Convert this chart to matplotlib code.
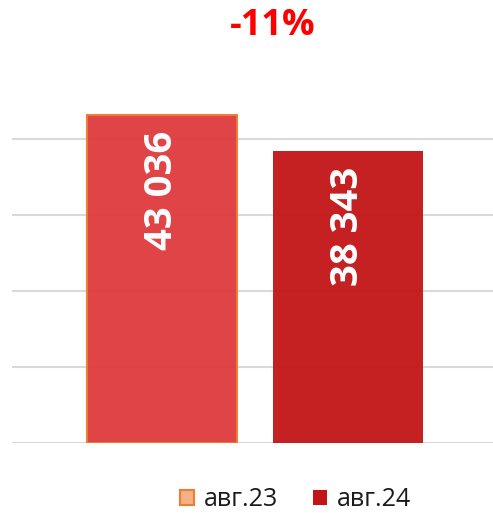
import matplotlib
matplotlib.use('Agg')
import matplotlib.pyplot as plt
from matplotlib.patches import Patch

# monthly totals
periods = ['авг.23', 'авг.24']
values = [43036, 38343]
change_label = '-11%'

bar_colors = ['#E03A3C', '#C21516']
edge_colors = ['#ED7D31', '#C21516']
edge_widths = [1.5, 0]
legend_faces = ['#F4B183', '#C21516']

plt.rcParams['font.family'] = ['Open Sans', 'DejaVu Sans']

fig = plt.figure(figsize=(4.93, 5.13), dpi=100)
ax = fig.add_axes([0.0243, 0.1355, 0.9757, 0.743])

x = list(range(len(values)))
bars = ax.bar(x, values, width=0.806, color=bar_colors, edgecolor=edge_colors,
              linewidth=edge_widths, alpha=0.95, zorder=3)

for rect, v in zip(bars, values):
    txt = '{:,}'.format(v).replace(',', ' ')
    ax.annotate(txt, (rect.get_x() + rect.get_width() / 2, v),
                xytext=(0, -11), textcoords='offset points',
                rotation=90, ha='center', va='top', color='white',
                fontsize=27.5, fontweight='bold', zorder=4)

ax.set_xlim(-0.806, 1.78)
ax.set_ylim(0, 50000)
ax.set_yticks([0, 10000, 20000, 30000, 40000])
ax.yaxis.grid(True, color='#D9D9D9', linewidth=1.5, zorder=0)
ax.set_axisbelow(True)
ax.tick_params(left=False, bottom=False, labelleft=False, labelbottom=False)
for s in ax.spines.values():
    s.set_visible(False)

fig.text(0.553, 0.949, change_label, color='#FF0000', fontsize=26,
         fontweight='bold', ha='center', va='center')

handles = [Patch(facecolor=legend_faces[0], edgecolor='#ED7D31', linewidth=1.5),
           Patch(facecolor=legend_faces[1], edgecolor='none')]
fig.legend(handles, periods, loc='center', bbox_to_anchor=(0.6, 0.026),
           ncol=2, frameon=False, fontsize=18, handlelength=0.55, handleheight=0.55,
           handletextpad=0.4, columnspacing=1.4, labelcolor='#1A1A1A')

fig.savefig('out.png', dpi=100)
